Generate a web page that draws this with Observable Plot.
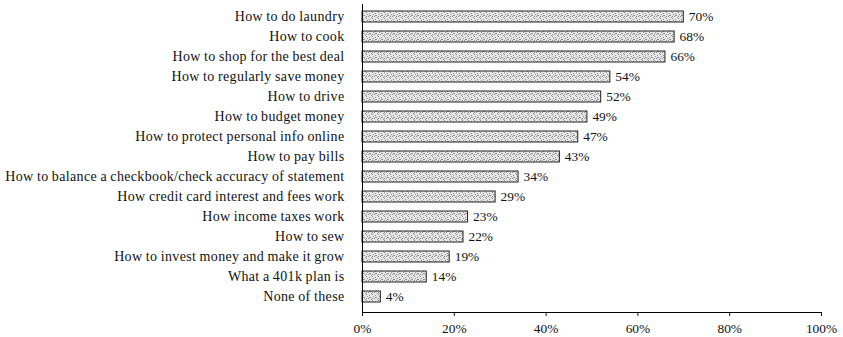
<!DOCTYPE html>
<html>
<head>
<meta charset="utf-8">
<script src="https://cdn.jsdelivr.net/npm/d3@7"></script>
<script src="https://cdn.jsdelivr.net/npm/@observablehq/plot@0.6"></script>
<style>
  body { margin: 0; background: #fff; }
  #chart svg { display: block; }
  #chart g[aria-label="y-axis tick label"] text {
    font-size: 14px;
    letter-spacing: 0.35px;
    word-spacing: -0.5px;
  }
</style>
</head>
<body>
<div id="chart"></div>
<script>
const categories = [
  "How to do laundry",
  "How to cook",
  "How to shop for the best deal",
  "How to regularly save money",
  "How to drive",
  "How to budget money",
  "How to protect personal info online",
  "How to pay bills",
  "How to balance a checkbook/check accuracy of statement",
  "How credit card interest and fees work",
  "How income taxes work",
  "How to sew",
  "How to invest money and make it grow",
  "What a 401k plan is",
  "None of these"
];
const values = [70, 68, 66, 54, 52, 49, 47, 43, 34, 29, 23, 22, 19, 14, 4];
const xTicks = [0, 20, 40, 60, 80, 100];

const data = categories.map((c, i) => ({category: c, value: values[i]}));

const font = "'Liberation Serif', 'DejaVu Serif', serif";

const chart = Plot.plot({
  width: 843,
  height: 337,
  marginLeft: 362,
  marginRight: 22,
  marginTop: 4,
  marginBottom: 25,
  insetTop: 1.5,
  insetBottom: 5,
  style: {fontFamily: font, fontSize: "13.4px", color: "#111", background: "#fff"},
  x: {domain: [0, 100], ticks: xTicks, tickFormat: d => d + "%", tickSize: 4, tickPadding: 7, label: null},
  y: {domain: categories, paddingInner: 0.43, paddingOuter: 0.215, tickSize: 0, tickPadding: 18, label: null},
  marks: [
    Plot.barX(data, {x: "value", y: "category", fill: "url(#stipple)", stroke: "#222", strokeWidth: 1}),
    Plot.text(data, {x: "value", y: "category", text: d => d.value + "%", textAnchor: "start", dx: 5, fill: "#111", fontSize: 13.4}),
    Plot.frame({anchor: "left", stroke: "#000"}),
    Plot.frame({anchor: "bottom", stroke: "#000"})
  ]
});

// stipple pattern for bar fills
const svg = d3.select(chart);
const defs = svg.insert("defs", ":first-child");
const pat = defs.append("pattern")
  .attr("id", "stipple")
  .attr("patternUnits", "userSpaceOnUse")
  .attr("width", 6).attr("height", 6);
pat.append("rect").attr("width", 6).attr("height", 6).attr("fill", "#e6e6e6");
const dots = [[0,0],[3,1],[1,2],[4,3],[2,4],[5,5],[0,4],[3,3]];
dots.forEach(([x, y]) => pat.append("rect").attr("x", x).attr("y", y).attr("width", 1).attr("height", 1).attr("fill", "#8f8f8f"));

document.getElementById("chart").appendChild(chart);
</script>
</body>
</html>
